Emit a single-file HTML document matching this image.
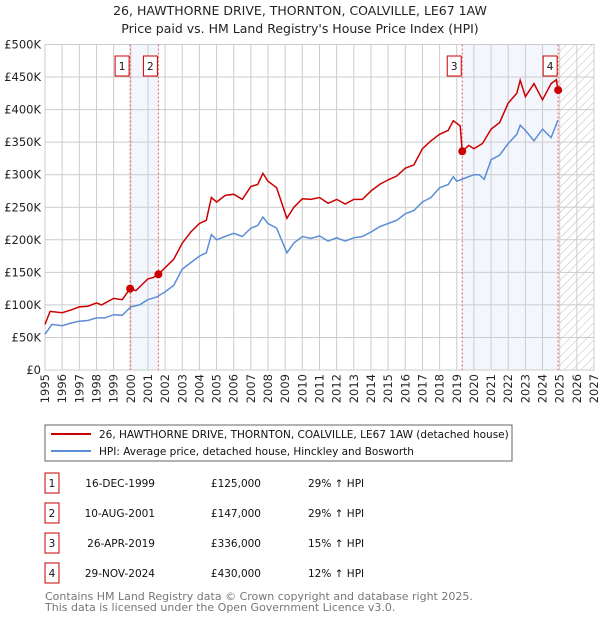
<!DOCTYPE html>
<html><head><meta charset="utf-8"><style>
body{margin:0;background:#fff;font-family:"DejaVu Sans","Liberation Sans",sans-serif;}
svg text{font-family:"DejaVu Sans","Liberation Sans",sans-serif;}
</style></head><body>
<svg id="c" width="600" height="620" xmlns="http://www.w3.org/2000/svg">
<defs><pattern id="hatch" width="6" height="6" patternUnits="userSpaceOnUse" patternTransform="rotate(45)"><line x1="0" y1="0" x2="0" y2="6" stroke="#bbb" stroke-width="1"/></pattern></defs>
<text x="300" y="15" text-anchor="middle" font-size="12.5" fill="#222">26, HAWTHORNE DRIVE, THORNTON, COALVILLE, LE67 1AW</text>
<text x="300" y="33" text-anchor="middle" font-size="12.5" fill="#222">Price paid vs. HM Land Registry's House Price Index (HPI)</text>
<g id="plot"></g>
<rect x="45" y="425" width="467" height="36" fill="#fff" stroke="#666"/>
<line x1="51" y1="434" x2="91" y2="434" stroke="#cc0000" stroke-width="2"/>
<text x="99" y="438" font-size="10.5" fill="#111">26, HAWTHORNE DRIVE, THORNTON, COALVILLE, LE67 1AW (detached house)</text>
<line x1="51" y1="451" x2="91" y2="451" stroke="#5b8ed6" stroke-width="2"/>
<text x="99" y="455" font-size="10.5" fill="#111">HPI: Average price, detached house, Hinckley and Bosworth</text>
<g id="table" font-size="10.5" fill="#111"></g>
<text x="45" y="600" font-size="11" fill="#777">Contains HM Land Registry data © Crown copyright and database right 2025.</text>
<text x="45" y="611" font-size="11" fill="#777">This data is licensed under the Open Government Licence v3.0.</text>
</svg>
<script>
const hpiYears=[1995,1995.4,1996,1996.5,1997,1997.5,1998,1998.5,1999,1999.5,2000,2000.5,2001,2001.5,2002,2002.5,2003,2003.5,2004,2004.4,2004.7,2005,2005.5,2006,2006.5,2007,2007.4,2007.7,2008,2008.5,2009.1,2009.5,2010,2010.5,2011,2011.5,2012,2012.5,2013,2013.5,2014,2014.5,2015,2015.5,2016,2016.5,2017,2017.5,2018,2018.5,2018.8,2019,2019.5,2020,2020.3,2020.6,2021,2021.5,2022,2022.5,2022.7,2023,2023.5,2024,2024.5,2024.9];
const hpiValues=[55,70,68,72,75,76,80,80,85,84,97,100,108,112,120,130,155,165,175,180,208,200,205,210,205,218,222,235,225,218,180,195,205,202,206,198,203,198,203,205,212,220,225,230,240,245,258,265,280,285,297,290,295,300,300,293,323,330,348,362,376,368,352,370,357,384];
const priceYears=[1995,1995.3,1996,1996.5,1997,1997.5,1998,1998.3,1999,1999.5,1999.96,2000.3,2001,2001.3,2001.61,2002.5,2003,2003.5,2004,2004.4,2004.7,2005,2005.5,2006,2006.5,2007,2007.4,2007.7,2008,2008.5,2009.1,2009.5,2010,2010.5,2011,2011.5,2012,2012.5,2013,2013.5,2014,2014.5,2015,2015.5,2016,2016.5,2017,2017.5,2018,2018.5,2018.8,2019.2,2019.32,2019.7,2020,2020.5,2021,2021.5,2022,2022.5,2022.7,2023,2023.5,2024,2024.5,2024.8,2024.91];
const priceValues=[70,90,88,92,97,98,103,100,110,108,125,122,140,142,147,170,195,212,225,230,265,258,268,270,262,282,285,302,290,280,233,250,263,262,265,256,262,255,262,262,275,285,292,298,310,315,340,352,362,368,383,375,336,345,340,348,370,380,410,425,445,420,440,415,440,446,430];
const saleYears=[1999.96,2001.61,2019.32,2024.91];
const saleValues=[125,147,336,430];
const saleLabels=["1","2","3","4"];
const saleDates=["16-DEC-1999","10-AUG-2001","26-APR-2019","29-NOV-2024"];
const salePrices=["£125,000","£147,000","£336,000","£430,000"];
const saleHpi=["29% ↑ HPI","29% ↑ HPI","15% ↑ HPI","12% ↑ HPI"];
const yTicks=[0,50,100,150,200,250,300,350,400,450,500];
const yTickLabels=["£0","£50K","£100K","£150K","£200K","£250K","£300K","£350K","£400K","£450K","£500K"];
const xTicks=[1995,1996,1997,1998,1999,2000,2001,2002,2003,2004,2005,2006,2007,2008,2009,2010,2011,2012,2013,2014,2015,2016,2017,2018,2019,2020,2021,2022,2023,2024,2025,2026,2027];

const L=45,R=594,T=44.5,B=370,x0=1995,x1=2027,y1=500;
const X=v=>L+(v-x0)/(x1-x0)*(R-L);
const Y=v=>B-v/y1*(B-T);
const NS="http://www.w3.org/2000/svg";
const g=document.getElementById('plot');
function mk(tag,attrs,parent){const e=document.createElementNS(NS,tag);for(const k in attrs)e.setAttribute(k,attrs[k]);(parent||g).appendChild(e);return e;}

let e=mk('rect',{x:X(saleYears[0]),y:T,width:X(saleYears[1])-X(saleYears[0]),height:B-T,fill:'#f3f6fd'});


e=mk('rect',{x:X(saleYears[2]),y:T,width:X(saleYears[3])-X(saleYears[2]),height:B-T,fill:'#f3f6fd'});


e=mk('rect',{x:X(2025),y:T,width:R-X(2025),height:B-T,fill:'url(#hatch)'});



yTicks.forEach((t,i)=>{
  const l=mk('line',{x1:L,x2:R,y1:Y(t),y2:Y(t),stroke:'#ccc','stroke-width':1});
  
  
  const tx=mk('text',{x:L-4,y:Y(t)+4,'text-anchor':'end','font-size':11.5,fill:'#222'});
  tx.textContent=yTickLabels[i];
  
  
});
xTicks.forEach(t=>{
  const l=mk('line',{x1:X(t),x2:X(t),y1:T,y2:B,stroke:'#ccc','stroke-width':1});
  
  
  const tx=mk('text',{transform:`translate(${X(t)+4},${B+4}) rotate(-90)`,'text-anchor':'end','font-size':11.5,fill:'#222'});
  tx.textContent=t;
  
  
});
e=mk('rect',{x:L,y:T,width:R-L,height:B-T,fill:'none',stroke:'#ccc'});



saleYears.forEach((s,i)=>{
  const l=mk('line',{x1:X(s),x2:X(s),y1:T,y2:B,stroke:'#e06060','stroke-width':1,'stroke-dasharray':'2,2'});
  
  
});

const pts=(xs,ys)=>xs.map((v,i)=>X(v).toFixed(1)+','+Y(ys[i]).toFixed(1)).join(' ');
e=mk('polyline',{points:pts(hpiYears,hpiValues),fill:'none',stroke:'#5b8ed6','stroke-width':1.5});


e=mk('polyline',{points:pts(priceYears,priceValues),fill:'none',stroke:'#cc0000','stroke-width':1.5});



saleYears.forEach((s,i)=>{
  const c=mk('circle',{cx:X(s),cy:Y(saleValues[i]),r:4,fill:'#cc0000'});
  
  
  const bx=mk('rect',{x:X(s)-15,y:56,width:14,height:20,fill:'#fff',stroke:'#cc0000'});
  
  
  const tx=mk('text',{x:X(s)-8,y:70,'text-anchor':'middle','font-size':10.5,fill:'#111'});
  tx.textContent=saleLabels[i];
  
  
});

const tb=document.getElementById('table');
saleLabels.forEach((lab,i)=>{
  const cy=483+i*30;
  const r=mk('rect',{x:45,y:cy-10,width:14,height:20,fill:'#fff',stroke:'#cc0000'},tb);
  
  
  const cells=[[52,'middle',lab,'table-index'],[155,'end',saleDates[i],'table-date'],[261,'end',salePrices[i],'table-price'],[308,'start',saleHpi[i],'table-hpi-diff']];
  cells.forEach(c=>{
    const t=mk('text',{x:c[0],y:cy+4,'text-anchor':c[1]},tb);
    t.textContent=c[2];
    
    
  });
});
</script>
</body></html>
